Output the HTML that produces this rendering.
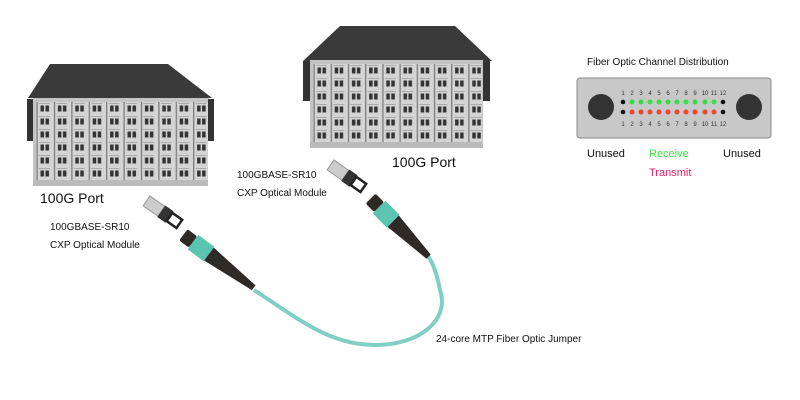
<!DOCTYPE html>
<html><head><style>
body{margin:0;background:#fff;}
svg{display:block;font-family:"Liberation Sans",sans-serif;}
</style></head><body>
<svg width="800" height="400" viewBox="0 0 800 400">
<defs>
<pattern id="ports" x="36" y="102" width="17.4" height="13" patternUnits="userSpaceOnUse">
<rect x="0" y="0" width="17.4" height="13" fill="#d4d4d4"/>
<rect x="0.5" y="0" width="1.2" height="13" fill="#777"/>
<rect x="4.5" y="3.5" width="3.5" height="6" fill="#333"/>
<rect x="9.5" y="3.5" width="3.5" height="6" fill="#333"/>
<rect x="3" y="1" width="11" height="1" fill="#aaa"/>
</pattern>
<pattern id="ports2" x="313" y="64" width="17.2" height="13" patternUnits="userSpaceOnUse">
<rect x="0" y="0" width="17.2" height="13" fill="#d4d4d4"/>
<rect x="0.5" y="0" width="1.2" height="13" fill="#777"/>
<rect x="4.5" y="3.5" width="3.5" height="6" fill="#333"/>
<rect x="9.5" y="3.5" width="3.5" height="6" fill="#333"/>
<rect x="3" y="1" width="11" height="1" fill="#aaa"/>
</pattern>
</defs>
<!-- Switch 1 -->
<polygon points="50,64 168,64 212,98 28,98" fill="#3a3a3a"/>
<rect x="27" y="99" width="7" height="42" fill="#333"/>
<rect x="207" y="99" width="7" height="42" fill="#333"/>
<rect x="33" y="98" width="175" height="88" fill="#c4c4c4"/>
<rect x="36" y="102" width="172" height="78" fill="url(#ports)"/>
<rect x="33" y="180" width="175" height="6" fill="#bbb"/>
<!-- Switch 2 -->
<polygon points="340,26 455,26 492,61 303,61" fill="#3a3a3a"/>
<rect x="303" y="61" width="8" height="40" fill="#333"/>
<rect x="482" y="61" width="8" height="40" fill="#333"/>
<rect x="310" y="60" width="173" height="88" fill="#c4c4c4"/>
<rect x="313" y="64" width="169" height="78" fill="url(#ports2)"/>
<rect x="310" y="142" width="173" height="6" fill="#bbb"/>

<text x="40" y="203" font-size="14" fill="#111">100G Port</text>
<text x="392" y="167" font-size="14" fill="#111">100G Port</text>
<text x="50" y="230" font-size="10" fill="#111">100GBASE-SR10</text>
<text x="50" y="248" font-size="10" fill="#111">CXP Optical Module</text>
<text x="237" y="178" font-size="10" fill="#111">100GBASE-SR10</text>
<text x="237" y="196" font-size="10" fill="#111">CXP Optical Module</text>
<text x="436" y="342" font-size="10" fill="#111">24-core MTP Fiber Optic Jumper</text>

<!-- module 1 -->
<g transform="translate(150,196) rotate(35)">
<rect x="0" y="0" width="18" height="12" fill="#ccc" stroke="#999"/>
<rect x="18" y="-1" width="10" height="14" fill="#333"/>
<rect x="28" y="1" width="12" height="10" fill="none" stroke="#222" stroke-width="2.5"/>
</g>
<!-- module 2 -->
<g transform="translate(334,160) rotate(35)">
<rect x="0" y="0" width="18" height="12" fill="#ccc" stroke="#999"/>
<rect x="18" y="-1" width="10" height="14" fill="#333"/>
<rect x="28" y="1" width="12" height="10" fill="none" stroke="#222" stroke-width="2.5"/>
</g>
<!-- cable -->
<path d="M254,290 C300,320 330,345 375,345 C420,345 450,320 440,290 C437,275 434,265 428,256" fill="none" stroke="#7fcfc4" stroke-width="4"/>
<!-- left connector -->
<g transform="translate(185,236) rotate(37)">
<rect x="-2" y="-7" width="12" height="14" rx="2" fill="#2e2a28"/>
<rect x="10" y="-9" width="20" height="18" fill="#5cc5b2"/>
<polygon points="30,-8 86,-3 86,3 30,8" fill="#2e2a28"/>
</g>
<!-- right connector -->
<g transform="translate(372,200) rotate(45)">
<rect x="-2" y="-7" width="12" height="14" rx="2" fill="#2e2a28"/>
<rect x="10" y="-9" width="20" height="18" fill="#5cc5b2"/>
<polygon points="30,-8 80,-3 80,3 30,8" fill="#2e2a28"/>
</g>

<!-- channel distribution -->
<text x="587" y="65" font-size="10" fill="#111">Fiber Optic Channel Distribution</text>
<rect x="577" y="78" width="194" height="60" rx="3" fill="#c8c8c8" stroke="#888"/>
<circle cx="601" cy="107" r="13" fill="#333"/>
<circle cx="749" cy="107" r="13" fill="#333"/>
<g font-size="6" fill="#333" text-anchor="middle">
<text x="623" y="95">1</text><text x="632" y="95">2</text><text x="641" y="95">3</text><text x="650" y="95">4</text><text x="659" y="95">5</text><text x="668" y="95">6</text><text x="677" y="95">7</text><text x="686" y="95">8</text><text x="695" y="95">9</text><text x="705" y="95">10</text><text x="714" y="95">11</text><text x="723" y="95">12</text>
<text x="623" y="126">1</text><text x="632" y="126">2</text><text x="641" y="126">3</text><text x="650" y="126">4</text><text x="659" y="126">5</text><text x="668" y="126">6</text><text x="677" y="126">7</text><text x="686" y="126">8</text><text x="695" y="126">9</text><text x="705" y="126">10</text><text x="714" y="126">11</text><text x="723" y="126">12</text>
</g>
<g>
<circle cx="623" cy="102" r="2.3" fill="#111"/><circle cx="723" cy="102" r="2.3" fill="#111"/>
<circle cx="623" cy="112" r="2.3" fill="#111"/><circle cx="723" cy="112" r="2.3" fill="#111"/>
<g fill="#33dd44"><circle cx="632" cy="102" r="2.5"/><circle cx="641" cy="102" r="2.5"/><circle cx="650" cy="102" r="2.5"/><circle cx="659" cy="102" r="2.5"/><circle cx="668" cy="102" r="2.5"/><circle cx="677" cy="102" r="2.5"/><circle cx="686" cy="102" r="2.5"/><circle cx="695" cy="102" r="2.5"/><circle cx="705" cy="102" r="2.5"/><circle cx="714" cy="102" r="2.5"/></g>
<g fill="#ee4433"><circle cx="632" cy="112" r="2.5"/><circle cx="641" cy="112" r="2.5"/><circle cx="650" cy="112" r="2.5"/><circle cx="659" cy="112" r="2.5"/><circle cx="668" cy="112" r="2.5"/><circle cx="677" cy="112" r="2.5"/><circle cx="686" cy="112" r="2.5"/><circle cx="695" cy="112" r="2.5"/><circle cx="705" cy="112" r="2.5"/><circle cx="714" cy="112" r="2.5"/></g>
</g>
<text x="587" y="157" font-size="11" fill="#111">Unused</text>
<text x="723" y="157" font-size="11" fill="#111">Unused</text>
<text x="649" y="157" font-size="11" fill="#44dd44">Receive</text>
<text x="649" y="176" font-size="11" fill="#dd2266">Transmit</text>
</svg>
</body></html>
